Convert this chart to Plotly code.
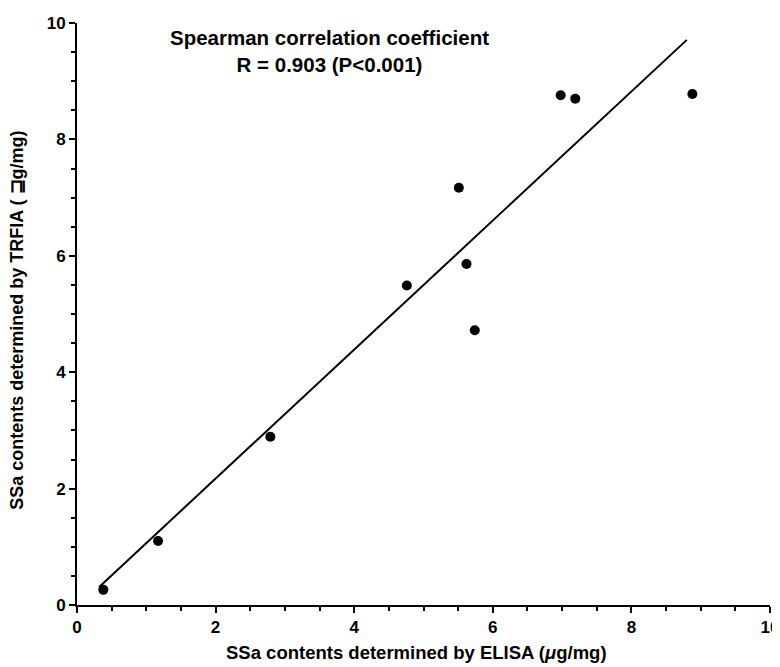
import plotly.graph_objects as go

elisa = [0.38, 1.17, 2.79, 4.76, 5.51, 5.62, 5.74, 6.98, 7.19, 8.88]
trfia = [0.26, 1.10, 2.89, 5.49, 7.17, 5.86, 4.72, 8.76, 8.70, 8.78]
fit_x = [0.32, 8.80]
fit_y = [0.31, 9.71]
ticks = [0, 2, 4, 6, 8, 10]

FONT = "Liberation Sans"
BOLD = dict(family=FONT, color="black", weight="bold")

fig = go.Figure()
fig.add_trace(go.Scatter(x=fit_x, y=fit_y, mode="lines",
                         line=dict(color="black", width=2), showlegend=False,
                         hoverinfo="skip"))
fig.add_trace(go.Scatter(x=elisa, y=trfia, mode="markers",
                         marker=dict(color="black", size=10), showlegend=False))

axis_common = dict(
    range=[0, 10], tickvals=ticks, ticktext=[str(t) for t in ticks],
    showgrid=False, zeroline=False, showline=True, linecolor="black", linewidth=2,
    ticks="outside", ticklen=6, tickwidth=2, tickcolor="black",
    tickfont=dict(BOLD, size=17),
    minor=dict(dtick=0.5, ticks="outside", ticklen=4, tickwidth=1.5, tickcolor="black"),
    automargin=False,
)

# the page body has a default 8px margin, so the figure is sized to fit inside it
fig.update_layout(
    width=772, height=659,
    margin=dict(l=69, r=10, t=15, b=62),
    plot_bgcolor="white", paper_bgcolor="white",
    font=dict(family=FONT, color="black"),
    xaxis=axis_common,
    yaxis=axis_common,
    annotations=[
        dict(x=3.65, y=9.52, xref="x", yref="y",
             text="Spearman correlation coefficient<br>R = 0.903 (P<0.001)",
             showarrow=False, align="center",
             font=dict(BOLD, size=20.5)),
        dict(x=0.49, y=-0.081, xref="paper", yref="paper",
             text="SSa contents determined by ELISA (<i>μ</i>g/mg)",
             showarrow=False, xanchor="center", yanchor="middle",
             font=dict(BOLD, size=18.5)),
        dict(x=-0.0866, y=0.49, xref="paper", yref="paper",
             text="SSa contents determined by TRFIA ( \u2292g/mg)",
             showarrow=False, xanchor="center", yanchor="middle", textangle=-90,
             font=dict(BOLD, size=18)),
    ],
)

fig.write_html("out.html")
